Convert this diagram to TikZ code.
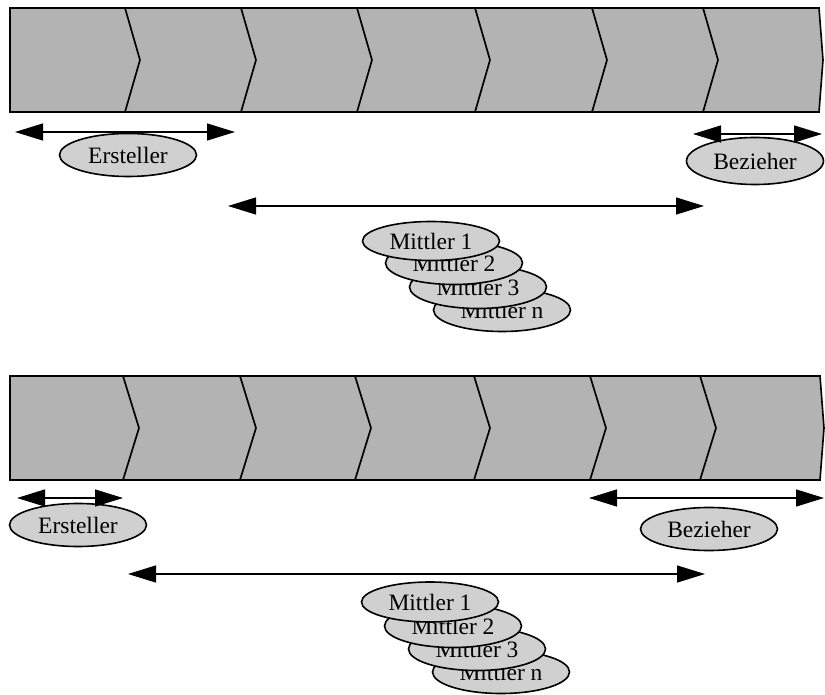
\documentclass[tikz,border=0pt]{standalone}
\usepackage{fontspec}
\setmainfont{Liberation Serif}
\usetikzlibrary{shapes.geometric,arrows.meta}
\definecolor{bandgray}{HTML}{B3B3B3}
\definecolor{ellgray}{HTML}{D0D0D0}
\tikzset{
  band/.style={fill=bandgray,draw=black,line width=1.6pt,line join=miter},
  chev/.style={draw=black,line width=1.7pt},
  ell/.style={ellipse,draw=black,fill=ellgray,line width=1.6pt,inner sep=0pt,
     minimum width=137pt,minimum height=43pt,font=\fontsize{23.5}{26}\selectfont},
  arr/.style={draw=black,line width=1.3pt,{Triangle[length=28pt,width=17pt]}-{Triangle[length=28pt,width=17pt]}}
}
\begin{document}
\begin{tikzpicture}[x=1pt,y=-1pt]
\useasboundingbox (0,0) rectangle (825,695);
% ---------- top band ----------
\path[band] (10,8) -- (819,8) -- (823,60) -- (819,112) -- (10,112) -- cycle;
\foreach \x in {125,241,357,475,592,703}
  \draw[chev] (\x,8) -- (\x+15,60) -- (\x,112);
% ---------- bottom band ----------
\path[band] (10,376) -- (820,376) -- (824,428) -- (820,480) -- (10,480) -- cycle;
\foreach \x in {123,240,355,474,590,700}
  \draw[chev] (\x,376) -- (\x+16,428) -- (\x,480);

% ---------- top group ----------
\node[ell] (ers1) at (128,155) {Ersteller};
\node[ell,minimum height=47pt] (bez1) at (755,161) {Bezieher};
\coordinate (e1l) at (15,132);  \coordinate (e1r) at (235,132);
\coordinate (b1l) at (693,134); \coordinate (b1r) at (822,134);
\coordinate (m1l) at (228,206); \coordinate (m1r) at (704,206);
\draw[arr] (e1l) -- (e1r);
\draw[arr] (b1l) -- (b1r);
\draw[arr] (m1l) -- (m1r);
\node[ell] (mn1) at (502,310) {Mittler n};
\node[ell] (m31) at (478,287) {Mittler 3};
\node[ell] (m21) at (454,263) {Mittler 2};
\node[ell,minimum height=39pt] (m11) at (431,241) {Mittler 1};

% ---------- bottom group ----------
\node[ell] (ers2) at (78,525) {Ersteller};
\node[ell] (bez2) at (709,529) {Bezieher};
\coordinate (e2l) at (17,498);  \coordinate (e2r) at (123,498);
\coordinate (b2l) at (589,498); \coordinate (b2r) at (824,498);
\coordinate (m2l) at (128,574); \coordinate (m2r) at (705,574);
\draw[arr] (e2l) -- (e2r);
\draw[arr] (b2l) -- (b2r);
\draw[arr] (m2l) -- (m2r);
\node[ell] (mn2) at (501,672) {Mittler n};
\node[ell] (m32) at (477,649) {Mittler 3};
\node[ell] (m22) at (453,626) {Mittler 2};
\node[ell,minimum height=40pt] (m12) at (430,602) {Mittler 1};
\end{tikzpicture}
\end{document}
